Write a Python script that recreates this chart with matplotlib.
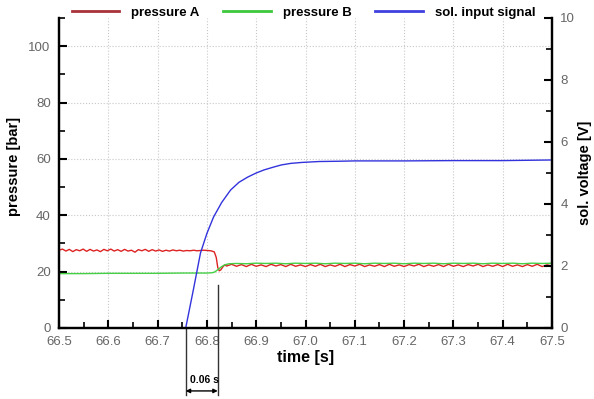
import matplotlib
matplotlib.use("Agg")
import matplotlib.pyplot as plt
from matplotlib.ticker import MultipleLocator
from matplotlib.lines import Line2D
import matplotlib.transforms as mtransforms

plt.rcParams['font.family'] = ['Liberation Sans', 'DejaVu Sans']

# ---- data ----
tA = [66.500, 66.507, 66.514, 66.521, 66.528, 66.535, 66.542, 66.549, 66.556, 66.563,
      66.570, 66.577, 66.584, 66.591, 66.598, 66.605, 66.612, 66.619, 66.626, 66.633,
      66.640, 66.647, 66.654, 66.661, 66.668, 66.675, 66.682, 66.689, 66.696, 66.703,
      66.710, 66.717, 66.724, 66.731, 66.738, 66.745, 66.752, 66.759, 66.766, 66.773,
      66.780, 66.787, 66.794, 66.801, 66.808,
      66.815, 66.819, 66.822, 66.825, 66.828, 66.832, 66.836, 66.840,
      66.85, 66.86, 66.87, 66.88, 66.89, 66.90, 66.91, 66.92, 66.93, 66.94,
      66.95, 66.96, 66.97, 66.98, 66.99, 67.00, 67.01, 67.02, 67.03, 67.04,
      67.05, 67.06, 67.07, 67.08, 67.09, 67.10, 67.11, 67.12, 67.13, 67.14,
      67.15, 67.16, 67.17, 67.18, 67.19, 67.20, 67.21, 67.22, 67.23, 67.24,
      67.25, 67.26, 67.27, 67.28, 67.29, 67.30, 67.31, 67.32, 67.33, 67.34,
      67.35, 67.36, 67.37, 67.38, 67.39, 67.40, 67.41, 67.42, 67.43, 67.44,
      67.45, 67.46, 67.47, 67.48, 67.49, 67.50]
pA = [27.6, 28.0, 27.3, 27.9, 27.1, 27.8, 27.4, 28.0, 27.2, 27.9,
      27.3, 27.7, 27.1, 27.9, 27.4, 28.0, 27.3, 27.8, 27.2, 27.9,
      27.3, 27.6, 26.9, 27.8, 27.4, 27.9, 27.2, 27.8, 27.3, 27.7,
      27.2, 27.6, 27.3, 27.7, 27.4, 27.6, 27.3, 27.5, 27.4, 27.6,
      27.4, 27.5, 27.6, 27.5, 27.4,
      27.0, 25.0, 21.5, 20.3, 20.6, 21.6, 22.4, 22.0,
      22.6, 21.9, 22.5, 21.8, 22.6, 21.9, 22.4, 21.8, 22.6, 22.0,
      22.5, 21.8, 22.6, 21.9, 22.4, 21.8, 22.5, 21.9, 22.6, 21.8,
      22.4, 21.9, 22.6, 21.8, 22.5, 22.0, 22.6, 21.8, 22.4, 21.9,
      22.5, 21.8, 22.6, 21.9, 22.4, 21.8, 22.5, 22.0, 22.6, 21.8,
      22.4, 21.9, 22.5, 21.8, 22.6, 21.9, 22.4, 21.8, 22.5, 22.0,
      22.6, 21.8, 22.4, 21.9, 22.5, 21.8, 22.6, 21.9, 22.4, 21.8,
      22.5, 21.9, 22.6, 21.8, 22.4, 22.0]

tB = [66.50, 66.55, 66.60, 66.65, 66.70, 66.75, 66.80, 66.81, 66.815, 66.82,
      66.825, 66.83, 66.835, 66.84, 66.845,
      66.86, 66.88, 66.90, 66.92, 66.94, 66.96, 66.98, 67.00, 67.02, 67.04,
      67.06, 67.08, 67.10, 67.12, 67.14, 67.16, 67.18, 67.20, 67.22, 67.24,
      67.26, 67.28, 67.30, 67.32, 67.34, 67.36, 67.38, 67.40, 67.42, 67.44,
      67.46, 67.48, 67.50]
pB = [19.3, 19.3, 19.4, 19.4, 19.4, 19.5, 19.5, 19.6, 19.8, 20.4,
      21.1, 21.8, 22.3, 22.6, 22.8,
      22.9, 22.8, 23.0, 22.9, 23.0, 22.8, 23.0, 22.9, 23.0, 22.8,
      23.0, 22.9, 23.0, 22.8, 23.0, 22.9, 23.0, 22.8, 23.0, 22.9,
      23.0, 22.8, 23.0, 22.9, 23.0, 22.8, 23.0, 22.9, 23.0, 22.8,
      23.0, 22.9, 23.0]

tS = [66.757, 66.7725, 66.787, 66.800, 66.8135, 66.830, 66.848, 66.865, 66.883, 66.900,
      66.916, 66.935, 66.951, 66.970, 66.992, 67.027, 67.070, 67.100, 67.200, 67.300,
      67.400, 67.500]
vS = [0.0, 1.23, 2.42, 3.05, 3.58, 4.05, 4.45, 4.70, 4.87, 5.00,
      5.10, 5.19, 5.26, 5.31, 5.34, 5.37, 5.38, 5.39, 5.39, 5.40,
      5.40, 5.42]

t_start = 66.757   # start of solenoid signal
t_resp = 66.822    # start of pressure response

series_labels = ['pressure A', 'pressure B', 'sol. input signal']

# ---- figure ----
fig = plt.figure(figsize=(5.94, 3.99), dpi=100)
ax = fig.add_axes([59/594, 1-328/399, 493/594, 310/399])
ax2 = ax.twinx()

gray = '#666666'
ax.plot(tA, pA, color='#dd2222', lw=1.0)
ax.plot(tB, pB, color='#44d044', lw=1.0)
ax2.plot(tS, vS, color='#3333dd', lw=1.0)

ax.set_xlim(66.5, 67.5)
ax.set_ylim(0, 110)
ax2.set_ylim(0, 10)

ax.xaxis.set_major_locator(MultipleLocator(0.1))
ax.xaxis.set_minor_locator(MultipleLocator(0.05))
ax.yaxis.set_major_locator(MultipleLocator(20))
ax.yaxis.set_minor_locator(MultipleLocator(10))
ax2.yaxis.set_major_locator(MultipleLocator(2))
ax2.yaxis.set_minor_locator(MultipleLocator(1))
ax.set_yticks([0, 20, 40, 60, 80, 100])
ax.set_xticks([66.5 + 0.1*i for i in range(11)])
ax.set_xticklabels(['66.5', '66.6', '66.7', '66.8', '66.9', '67.0',
                    '67.1', '67.2', '67.3', '67.4', '67.5'])

ax.grid(True, which='major', color='#c8c8c8', ls=':', lw=0.8)

for a in (ax, ax2):
    a.spines['top'].set_visible(False)
    for s in ('left', 'right', 'bottom'):
        a.spines[s].set_linewidth(1.6)
    a.tick_params(which='major', direction='in', length=6, width=1.5,
                  labelsize=9.5, labelcolor=gray)
    a.tick_params(which='minor', direction='in', length=4, width=1.2)
ax.tick_params(axis='x', pad=6)
ax.tick_params(axis='y', pad=6)
ax2.tick_params(axis='y', pad=6)

ax.set_xlabel('time [s]', fontsize=11.5, fontweight='bold', labelpad=1)
ax.set_ylabel('pressure [bar]', fontsize=10.5, fontweight='bold')
ax2.set_ylabel('sol. voltage [V]', fontsize=10.5, fontweight='bold')
ax.yaxis.set_label_coords(-0.077, 0.52)
ax2.yaxis.set_label_coords(1.052, 0.5)

# response-time annotation
tr = mtransforms.blended_transform_factory(ax.transData, ax.transAxes)
ax.plot([t_start, t_start], [0, -0.215], transform=tr, color='#333333', lw=1.0, clip_on=False)
ax.plot([t_resp, t_resp], [0.139, -0.215], transform=tr, color='#333333', lw=1.0, clip_on=False)
ax.annotate('', xy=(t_start, -0.203), xytext=(t_resp, -0.203), xycoords=tr, textcoords=tr,
            arrowprops=dict(arrowstyle='<|-|>', color='black', lw=1.0,
                            shrinkA=0, shrinkB=0, mutation_scale=6))
ax.text((t_start + t_resp)/2 + 0.006, -0.168, '0.06 s', transform=tr, ha='center', va='center',
        fontsize=7.5, fontweight='bold')

handles = [Line2D([], [], color='#a8323a', lw=2.0),
           Line2D([], [], color='#3cc83c', lw=2.0),
           Line2D([], [], color='#4040e0', lw=2.0)]
fig.legend(handles=handles, labels=series_labels, loc='center',
           bbox_to_anchor=(303.5/594, 1-13/399), ncol=3,
           frameon=False, handlelength=3.6, handletextpad=0.9, columnspacing=1.8,
           prop={'weight': 'bold', 'size': 9.5})

fig.savefig('out.png', dpi=100)
